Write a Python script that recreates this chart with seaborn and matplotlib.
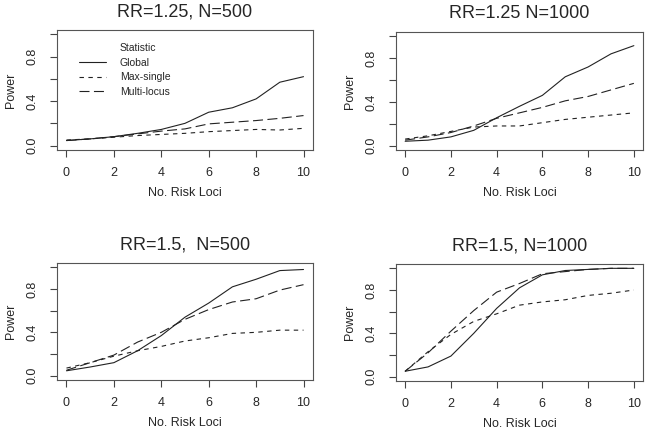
import pandas as pd
import seaborn as sns
import matplotlib.pyplot as plt
from matplotlib.lines import Line2D

# valores (potencia vs número de loci de riesgo)
loci = list(range(11))

global_125_500 = [0.045, 0.06, 0.08, 0.11, 0.145, 0.20, 0.30, 0.34, 0.42, 0.57, 0.62]
single_125_500 = [0.05, 0.06, 0.075, 0.09, 0.10, 0.11, 0.125, 0.135, 0.145, 0.14, 0.155]
multi_125_500 = [0.045, 0.06, 0.08, 0.105, 0.13, 0.15, 0.195, 0.21, 0.225, 0.245, 0.27]

global_125_1000 = [0.04, 0.05, 0.08, 0.14, 0.255, 0.36, 0.46, 0.63, 0.72, 0.84, 0.915]
single_125_1000 = [0.06, 0.09, 0.13, 0.17, 0.18, 0.18, 0.21, 0.24, 0.26, 0.28, 0.30]
multi_125_1000 = [0.05, 0.08, 0.12, 0.18, 0.25, 0.30, 0.35, 0.41, 0.45, 0.51, 0.57]

global_15_500 = [0.045, 0.08, 0.12, 0.23, 0.37, 0.54, 0.67, 0.82, 0.89, 0.97, 0.98]
single_15_500 = [0.07, 0.12, 0.18, 0.23, 0.27, 0.32, 0.35, 0.39, 0.40, 0.42, 0.42]
multi_15_500 = [0.05, 0.12, 0.19, 0.31, 0.40, 0.52, 0.61, 0.68, 0.71, 0.79, 0.84]

global_15_1000 = [0.05, 0.09, 0.19, 0.40, 0.63, 0.82, 0.94, 0.98, 0.99, 1.0, 1.0]
single_15_1000 = [0.05, 0.23, 0.39, 0.51, 0.58, 0.66, 0.69, 0.71, 0.75, 0.77, 0.80]
multi_15_1000 = [0.05, 0.22, 0.42, 0.61, 0.78, 0.86, 0.95, 0.97, 0.99, 1.0, 1.0]

stats = ['Global', 'Max-single', 'Multi-locus']
titles = ['RR=1.25, N=500', 'RR=1.25 N=1000', 'RR=1.5,  N=500', 'RR=1.5, N=1000']
paneles = [
    (global_125_500, single_125_500, multi_125_500),
    (global_125_1000, single_125_1000, multi_125_1000),
    (global_15_500, single_15_500, multi_15_500),
    (global_15_1000, single_15_1000, multi_15_1000),
]

sns.set_theme(style='ticks')
plt.rcParams['font.family'] = ['Liberation Sans', 'DejaVu Sans']

W, H = 656, 430
fig = plt.figure(figsize=(W / 100, H / 100), dpi=100)

# cajas de los ejes en píxeles: (x0, y_top, x1, y_bottom)
cajas = [(57, 30, 313, 150), (396, 32, 643, 150),
         (57, 263, 313, 380), (396, 264, 643, 381)]

estilos = {'Global': '', 'Max-single': (4, 4), 'Multi-locus': (9, 4)}
color = '#222222'

for i, (vals, titulo, caja) in enumerate(zip(paneles, titles, cajas)):
    x0, yt, x1, yb = caja
    ax = fig.add_axes([x0 / W, 1 - yb / H, (x1 - x0) / W, (yb - yt) / H])
    df = pd.DataFrame({
        'loci': loci * 3,
        'power': vals[0] + vals[1] + vals[2],
        'stat': [s for s in stats for _ in loci],
    })
    sns.lineplot(data=df, x='loci', y='power', style='stat', dashes=estilos,
                 color=color, linewidth=0.8, ax=ax, legend=False)
    ax.set_xlim(-0.4, 10.4)
    ax.set_ylim(-0.04, 1.04)
    ax.set_xticks([0, 2, 4, 6, 8, 10])
    ax.set_yticks([0.0, 0.2, 0.4, 0.6, 0.8, 1.0])
    ax.set_yticklabels(['0.0', '', '0.4', '', '0.8', ''], rotation=90, va='center')
    ax.tick_params(labelsize=9, length=5, width=0.8, color='#444444')
    ax.tick_params(axis='x', pad=7)
    ax.tick_params(axis='y', pad=8)
    for sp in ax.spines.values():
        sp.set_visible(True)
        sp.set_color('#555555')
        sp.set_linewidth(0.8)
    ax.set_xlabel('No. Risk Loci', fontsize=9, labelpad=6)
    ax.set_ylabel('Power', fontsize=9, labelpad=7)
    ax.set_title(titulo, fontsize=13, pad=10)
    if i == 0:
        # leyenda estilo R: "Statistic" como primera fila sin línea
        handles = [Line2D([], [], linestyle='none')]
        for s in stats:
            ls = '-' if estilos[s] == '' else (0, estilos[s])
            handles.append(Line2D([], [], color=color, linewidth=0.8, linestyle=ls))
        ax.legend(handles, ['Statistic'] + stats, loc='upper left', frameon=False,
                  fontsize=7.5, handlelength=2.6, handletextpad=1.35,
                  labelspacing=0.45, bbox_to_anchor=(0.048, 0.97))

fig.savefig('out.png', dpi=100)
